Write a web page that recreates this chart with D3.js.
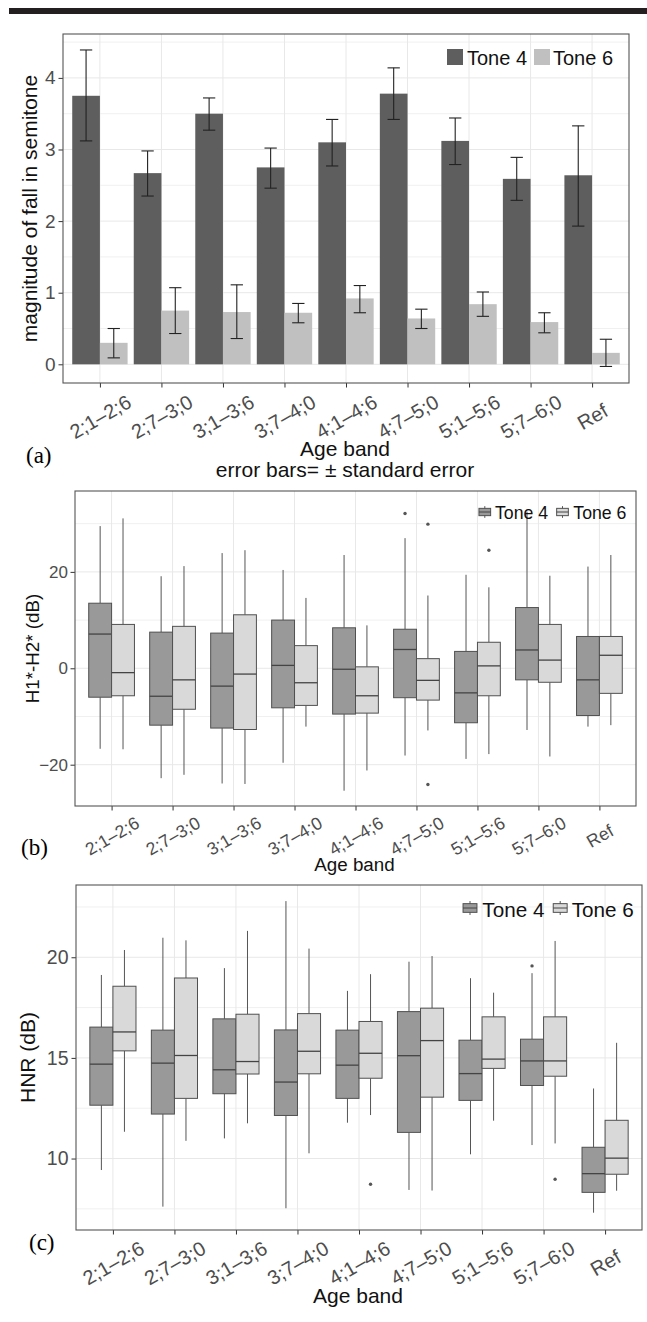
<!DOCTYPE html>
<html>
<head>
<meta charset="utf-8">
<script src="https://cdn.jsdelivr.net/npm/d3@7"></script>
<style>
  body { margin: 0; background: #fff; }
  svg { display: block; }
  text { font-family: "Liberation Sans", Arial, sans-serif; }
</style>
</head>
<body>
<div id="chart"></div>
<script>
///////////////////////////////////////////////////////////////////////////
////////////////////////////////// Data ///////////////////////////////////
///////////////////////////////////////////////////////////////////////////
var ageBands = ["2;1–2;6", "2;7–3;0", "3;1–3;6", "3;7–4;0", "4;1–4;6", "4;7–5;0", "5;1–5;6", "5;7–6;0", "Ref"]
var tones = ["Tone 4", "Tone 6"]

// (a) magnitude of fall, mean and +/- standard error bounds
var fallTone4   = [3.75, 2.67, 3.50, 2.75, 3.10, 3.78, 3.12, 2.59, 2.64]
var fallTone4Lo = [3.12, 2.35, 3.27, 2.46, 2.77, 3.42, 2.79, 2.29, 1.93]
var fallTone4Hi = [4.39, 2.98, 3.72, 3.02, 3.42, 4.14, 3.44, 2.89, 3.33]
var fallTone6   = [0.30, 0.75, 0.73, 0.72, 0.92, 0.64, 0.84, 0.59, 0.16]
var fallTone6Lo = [0.09, 0.43, 0.36, 0.58, 0.72, 0.50, 0.67, 0.44, -0.03]
var fallTone6Hi = [0.50, 1.07, 1.11, 0.85, 1.10, 0.77, 1.01, 0.72, 0.35]

// (b) H1*-H2* boxplots: [lower whisker, q1, median, q3, upper whisker]
var h1h2Tone4 = [
  [-16.7, -6.0, 7.1, 13.5, 29.5],
  [-22.8, -11.8, -5.8, 7.5, 19.1],
  [-23.9, -12.4, -3.7, 7.3, 23.9],
  [-19.6, -8.2, 0.6, 10.0, 20.4],
  [-25.4, -9.5, -0.2, 8.4, 23.5],
  [-18.1, -6.1, 3.9, 8.1, 27.0],
  [-18.8, -11.3, -5.1, 3.5, 19.4],
  [-12.8, -2.4, 3.8, 12.6, 32.5],
  [-12.1, -9.8, -2.4, 6.6, 21.1]
]
var h1h2Tone6 = [
  [-16.8, -5.7, -0.9, 9.1, 31.1],
  [-22.1, -8.5, -2.4, 8.7, 21.2],
  [-24.0, -12.7, -1.2, 11.1, 24.5],
  [-12.1, -7.7, -3.0, 4.7, 14.6],
  [-21.2, -9.3, -5.7, 0.3, 8.9],
  [-12.9, -6.6, -2.5, 2.0, 15.1],
  [-17.8, -5.7, 0.5, 5.4, 16.8],
  [-18.3, -2.9, 1.7, 9.1, 19.2],
  [-11.8, -5.2, 2.7, 6.6, 23.5]
]
var h1h2Out4 = [[], [], [], [], [], [32.1], [], [], []]
var h1h2Out6 = [[], [], [], [], [], [29.9, -24.1], [24.5], [], []]

// (c) HNR boxplots
var hnrTone4 = [
  [9.43, 12.65, 14.69, 16.53, 19.12],
  [7.61, 12.21, 14.74, 16.38, 20.97],
  [11.00, 13.22, 14.41, 16.94, 19.46],
  [7.53, 12.14, 13.80, 16.39, 22.79],
  [11.78, 12.99, 14.64, 16.38, 18.33],
  [8.44, 11.30, 15.11, 17.30, 19.78],
  [10.21, 12.89, 14.22, 15.88, 18.96],
  [10.67, 13.63, 14.85, 15.93, 19.21],
  [7.31, 8.32, 9.25, 10.56, 13.48]
]
var hnrTone6 = [
  [11.33, 15.35, 16.29, 18.56, 20.36],
  [10.88, 12.99, 15.12, 18.97, 20.84],
  [11.75, 14.20, 14.82, 17.17, 21.31],
  [10.26, 14.21, 15.33, 17.20, 20.43],
  [12.16, 13.99, 15.23, 16.81, 19.16],
  [8.41, 13.05, 15.86, 17.47, 20.06],
  [11.88, 14.48, 14.94, 17.04, 18.24],
  [10.75, 14.09, 14.85, 17.04, 20.81],
  [8.40, 9.22, 10.02, 11.90, 15.75]
]
var hnrOut4 = [[], [], [], [], [], [], [], [19.57], []]
var hnrOut6 = [[], [], [], [], [8.72], [], [], [8.97], []]

var yTicksA = [0, 1, 2, 3, 4]
var yTicksB = [-20, 0, 20]
var yTicksC = [10, 15, 20]

///////////////////////////////////////////////////////////////////////////
//////////////////////////////// Containers ///////////////////////////////
///////////////////////////////////////////////////////////////////////////
var totalWidth = 647
var totalHeight = 1322
var barColors = ["#5e5e5e", "#c0c0c0"]
var boxColors = ["#999999", "#d9d9d9"]

var svg = d3.select("#chart").append("svg")
  .attr("width", totalWidth)
  .attr("height", totalHeight)

svg.append("rect").attr("width", totalWidth).attr("height", totalHeight).attr("fill", "#fff")

// black rule at the top of the page
svg.append("rect")
  .attr("x", 9).attr("y", 8)
  .attr("width", 638).attr("height", 6)
  .attr("fill", "#231f20")

///////////////////////////////////////////////////////////////////////////
///////////////////////////// Panel scaffold //////////////////////////////
///////////////////////////////////////////////////////////////////////////
function makePanel(cfg) {
  var g = svg.append("g")
  var x = d3.scalePoint().domain(ageBands).range([cfg.left, cfg.right]).padding(0.6)
  var y = d3.scaleLinear().domain(cfg.yDomain).range([cfg.bottom, cfg.top])

  // minor grid
  g.selectAll(".minor").data(cfg.minor).enter().append("line")
    .attr("x1", cfg.left).attr("x2", cfg.right)
    .attr("y1", d => y(d)).attr("y2", d => y(d))
    .attr("stroke", "#f0f0f0").attr("stroke-width", 1)
  // major grid
  g.selectAll(".majorY").data(cfg.ticks).enter().append("line")
    .attr("x1", cfg.left).attr("x2", cfg.right)
    .attr("y1", d => y(d)).attr("y2", d => y(d))
    .attr("stroke", "#e8e8e8").attr("stroke-width", 1)
  g.selectAll(".majorX").data(ageBands).enter().append("line")
    .attr("x1", d => x(d)).attr("x2", d => x(d))
    .attr("y1", cfg.top).attr("y2", cfg.bottom)
    .attr("stroke", "#e8e8e8").attr("stroke-width", 1)

  var marks = svg.append("g")

  // axes
  var yAxis = svg.append("g")
    .attr("transform", "translate(" + cfg.left + ",0)")
    .call(d3.axisLeft(y).tickValues(cfg.ticks).tickSize(4.5).tickPadding(cfg.yPad).tickFormat(d3.format("d")))
  yAxis.select(".domain").remove()
  yAxis.selectAll("line").attr("stroke", "#333")
  yAxis.selectAll("text")
    .attr("fill", "#4d4d4d")
    .style("font-size", cfg.tickFont + "px")
    .style("font-family", '"Liberation Sans", Arial, sans-serif')

  var xAxis = svg.append("g")
    .attr("transform", "translate(0," + cfg.bottom + ")")
    .call(d3.axisBottom(x).tickSize(4.5))
  xAxis.select(".domain").remove()
  xAxis.selectAll("line").attr("stroke", "#333")
  xAxis.selectAll("text")
    .attr("fill", "#4d4d4d")
    .attr("y", 0).attr("dy", "0.35em")
    .attr("text-anchor", "middle")
    .attr("transform", "translate(0," + cfg.xOff + ") rotate(-30)")
    .style("font-size", cfg.xFont + "px")
    .style("font-family", '"Liberation Sans", Arial, sans-serif')

  // axis titles
  svg.append("text")
    .attr("transform", "translate(" + cfg.yTitleX + "," + ((cfg.top + cfg.bottom) / 2) + ") rotate(-90)")
    .attr("text-anchor", "middle")
    .attr("dy", "0.35em")
    .style("font-size", cfg.titleFont + "px")
    .attr("fill", "#111")
    .text(cfg.yTitle)

  cfg.xTitle.forEach(function(t, i) {
    svg.append("text")
      .attr("x", (cfg.left + cfg.right) / 2 - 1)
      .attr("y", cfg.xTitleY + i * cfg.xTitleGap)
      .attr("text-anchor", "middle")
      .style("font-size", cfg.titleFont + "px")
      .attr("fill", "#111")
      .text(t)
  })

  // panel label
  svg.append("text")
    .attr("x", cfg.tagX).attr("y", cfg.tagY)
    .style("font-family", '"Liberation Serif", "Times New Roman", serif')
    .style("font-size", "23px")
    .attr("fill", "#000")
    .text(cfg.tag)

  return { g: marks, x: x, y: y, step: x.step(), cfg: cfg }
}

function addBorder(p) {
  var c = p.cfg
  svg.append("rect")
    .attr("x", c.left).attr("y", c.top)
    .attr("width", c.right - c.left).attr("height", c.bottom - c.top)
    .attr("fill", "none").attr("stroke", "#555").attr("stroke-width", 1.1)
}

///////////////////////////////////////////////////////////////////////////
//////////////////////////// (a) bar chart ////////////////////////////////
///////////////////////////////////////////////////////////////////////////
var pa = makePanel({
  left: 63, right: 629, top: 34, bottom: 383,
  yDomain: [-0.261, 4.613], ticks: yTicksA, minor: [0.5, 1.5, 2.5, 3.5, 4.5],
  tickFont: 19, xFont: 20, titleFont: 21, yPad: 3,
  xOff: 33.7, yTitle: "magnitude of fall in semitone", yTitleX: 29.5,
  xTitle: ["Age band", "error bars= ± standard error"], xTitleY: 456, xTitleGap: 21,
  tag: "(a)", tagX: 26, tagY: 463
})

var barSeries = [
  { means: fallTone4, lo: fallTone4Lo, hi: fallTone4Hi },
  { means: fallTone6, lo: fallTone6Lo, hi: fallTone6Hi }
]
barSeries.forEach(function(s, ti) {
  var bw = pa.step * 0.45
  var off = ti === 0 ? -bw / 2 : bw / 2
  var rows = ageBands.map((a, i) => ({ band: a, v: s.means[i], lo: s.lo[i], hi: s.hi[i] }))
  pa.g.selectAll(".bar" + ti).data(rows).enter().append("rect")
    .attr("x", d => pa.x(d.band) + off - bw / 2)
    .attr("width", bw)
    .attr("y", d => pa.y(d.v))
    .attr("height", d => pa.y(0) - pa.y(d.v))
    .attr("fill", barColors[ti])
  var cap = pa.step * 0.2
  var eb = pa.g.selectAll(".err" + ti).data(rows).enter().append("g")
    .attr("stroke", "#222").attr("stroke-width", 1.1)
  eb.append("line")
    .attr("x1", d => pa.x(d.band) + off).attr("x2", d => pa.x(d.band) + off)
    .attr("y1", d => pa.y(d.lo)).attr("y2", d => pa.y(d.hi))
  eb.append("line")
    .attr("x1", d => pa.x(d.band) + off - cap / 2).attr("x2", d => pa.x(d.band) + off + cap / 2)
    .attr("y1", d => pa.y(d.lo)).attr("y2", d => pa.y(d.lo))
  eb.append("line")
    .attr("x1", d => pa.x(d.band) + off - cap / 2).attr("x2", d => pa.x(d.band) + off + cap / 2)
    .attr("y1", d => pa.y(d.hi)).attr("y2", d => pa.y(d.hi))
})
addBorder(pa)

// legend (a)
var legA = [{ x: 447, tx: 467 }, { x: 534, tx: 553 }]
legA.forEach(function(l, i) {
  svg.append("rect").attr("x", l.x).attr("y", 49).attr("width", 16).attr("height", 16).attr("fill", barColors[i])
  svg.append("text").attr("x", l.tx).attr("y", 64.5).style("font-size", "20px").attr("fill", "#111").text(tones[i])
})

///////////////////////////////////////////////////////////////////////////
///////////////////////////// Box plot helper /////////////////////////////
///////////////////////////////////////////////////////////////////////////
function drawBoxes(p, series, outliers) {
  var bw = p.step * 0.375
  series.forEach(function(s, ti) {
    var off = ti === 0 ? -bw / 2 : bw / 2
    var rows = ageBands.map((a, i) => ({ band: a, q: s[i], out: outliers[ti][i] }))
    var gb = p.g.selectAll(".box" + ti).data(rows).enter().append("g")
    gb.append("line")
      .attr("x1", d => p.x(d.band) + off).attr("x2", d => p.x(d.band) + off)
      .attr("y1", d => p.y(d.q[0])).attr("y2", d => p.y(d.q[1]))
      .attr("stroke", "#555").attr("stroke-width", 1)
    gb.append("line")
      .attr("x1", d => p.x(d.band) + off).attr("x2", d => p.x(d.band) + off)
      .attr("y1", d => p.y(d.q[3])).attr("y2", d => p.y(d.q[4]))
      .attr("stroke", "#555").attr("stroke-width", 1)
    gb.append("rect")
      .attr("x", d => p.x(d.band) + off - bw / 2)
      .attr("width", bw)
      .attr("y", d => p.y(d.q[3]))
      .attr("height", d => p.y(d.q[1]) - p.y(d.q[3]))
      .attr("fill", boxColors[ti])
      .attr("stroke", "#505050").attr("stroke-width", 1)
    gb.append("line")
      .attr("x1", d => p.x(d.band) + off - bw / 2).attr("x2", d => p.x(d.band) + off + bw / 2)
      .attr("y1", d => p.y(d.q[2])).attr("y2", d => p.y(d.q[2]))
      .attr("stroke", "#444").attr("stroke-width", 1.3)
    gb.selectAll("circle").data(d => d.out.map(v => ({ band: d.band, v: v }))).enter().append("circle")
      .attr("cx", d => p.x(d.band) + off)
      .attr("cy", d => p.y(d.v))
      .attr("r", 1.7)
      .attr("fill", "#555")
  })
}

function boxLegend(items, K, keyY, fontSize, textY) {
  items.forEach(function(l, i) {
    var cx = l.x + K / 2
    var g = svg.append("g")
    g.append("line").attr("x1", cx).attr("x2", cx).attr("y1", keyY + 0.1 * K).attr("y2", keyY + 0.9 * K)
      .attr("stroke", "#555")
    g.append("rect").attr("x", l.x + 0.1 * K).attr("y", keyY + 0.25 * K)
      .attr("width", 0.8 * K).attr("height", 0.5 * K)
      .attr("fill", boxColors[i]).attr("stroke", "#505050")
    g.append("line").attr("x1", l.x + 0.1 * K).attr("x2", l.x + 0.9 * K)
      .attr("y1", keyY + 0.5 * K).attr("y2", keyY + 0.5 * K).attr("stroke", "#444")
    svg.append("text").attr("x", l.tx).attr("y", textY)
      .style("font-size", fontSize + "px").attr("fill", "#111").text(tones[i])
  })
}

///////////////////////////////////////////////////////////////////////////
///////////////////////////// (b) H1*-H2* /////////////////////////////////
///////////////////////////////////////////////////////////////////////////
var pb = makePanel({
  left: 75, right: 636, top: 491, bottom: 806,
  yDomain: [-28.57, 36.78], ticks: yTicksB, minor: [-10, 10, 30],
  tickFont: 17, xFont: 17.7, titleFont: 18.8, yPad: 2.5,
  xOff: 30, yTitle: "H1*-H2* (dB)", yTitleX: 32,
  xTitle: ["Age band"], xTitleY: 871, xTitleGap: 0,
  tag: "(b)", tagX: 21, tagY: 855
})
drawBoxes(pb, [h1h2Tone4, h1h2Tone6], [h1h2Out4, h1h2Out6])
addBorder(pb)
boxLegend([{ x: 477.5, tx: 495 }, { x: 555.2, tx: 573.3 }], 14.6, 504.7, 17.7, 519)

///////////////////////////////////////////////////////////////////////////
/////////////////////////////// (c) HNR ///////////////////////////////////
///////////////////////////////////////////////////////////////////////////
var pc = makePanel({
  left: 76, right: 642, top: 885, bottom: 1230,
  yDomain: [6.45, 23.59], ticks: yTicksC, minor: [7.5, 12.5, 17.5, 22.5],
  tickFont: 19.5, xFont: 20, titleFont: 21, yPad: 3,
  xOff: 33, yTitle: "HNR (dB)", yTitleX: 28,
  xTitle: ["Age band"], xTitleY: 1303, xTitleGap: 0,
  tag: "(c)", tagX: 29, tagY: 1250
})
drawBoxes(pc, [hnrTone4, hnrTone6], [hnrOut4, hnrOut6])
addBorder(pc)
boxLegend([{ x: 461.3, tx: 482.3 }, { x: 551.5, tx: 571.7 }], 17.4, 899.3, 20.7, 916.5)
</script>
</body>
</html>
